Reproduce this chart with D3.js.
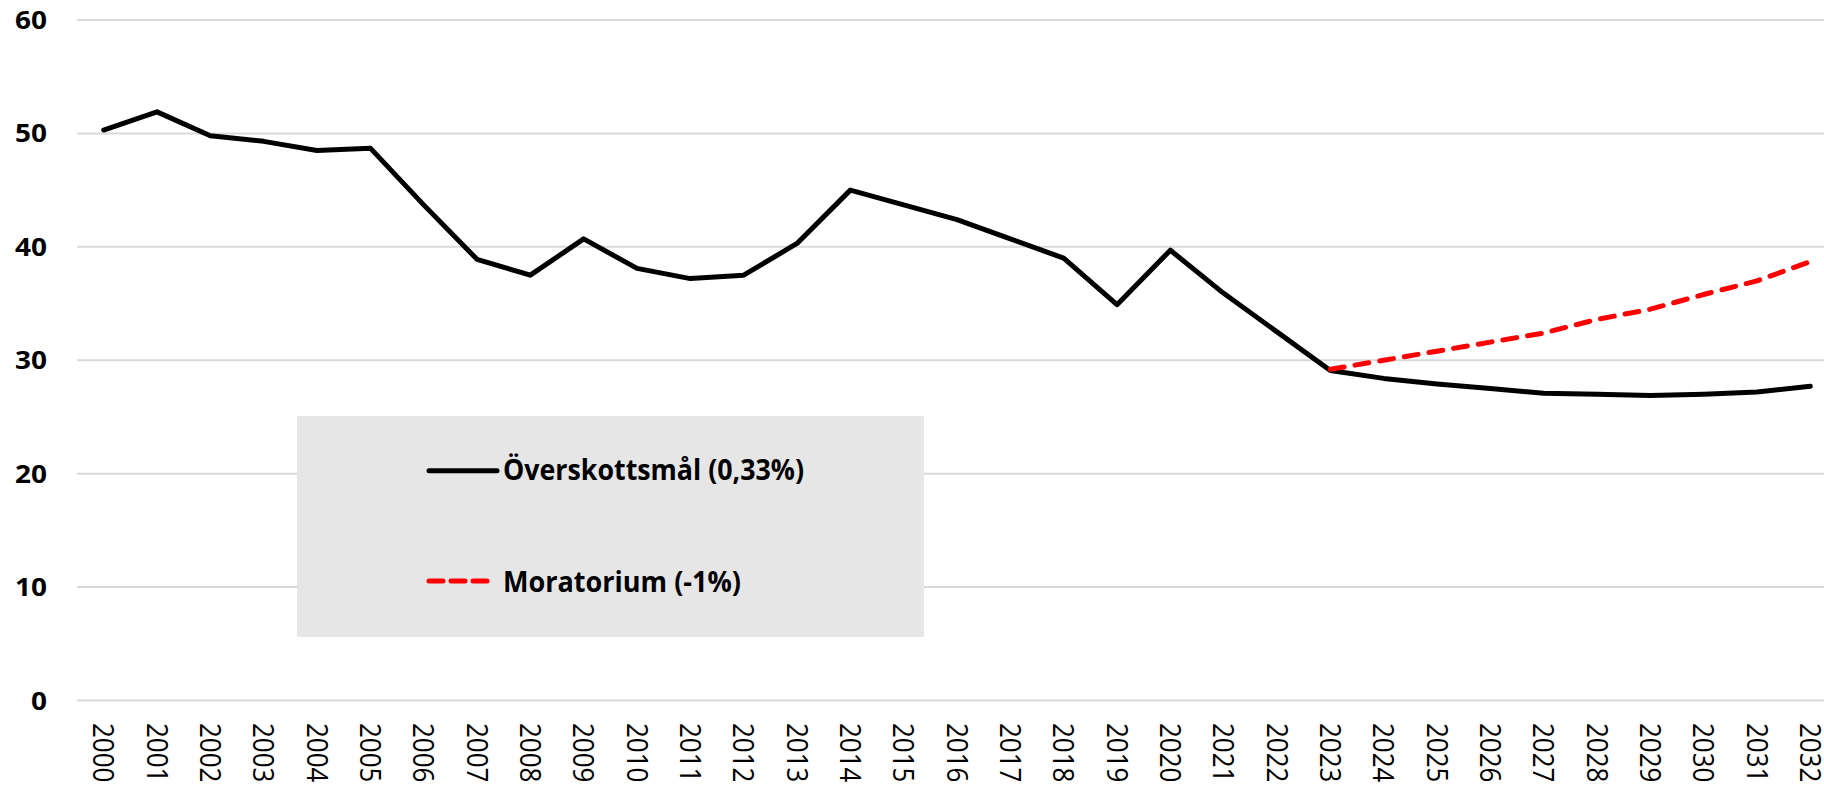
<!DOCTYPE html>
<html><head><meta charset="utf-8">
<script src="https://cdn.jsdelivr.net/npm/d3@7"></script>
<style>body{margin:0;background:#fff;overflow:hidden} svg{display:block}</style>
</head><body><svg id="c" width="1824" height="788"></svg>
<script>
const years = ["2000","2001","2002","2003","2004","2005","2006","2007","2008","2009","2010",
  "2011","2012","2013","2014","2015","2016","2017","2018","2019","2020","2021","2022",
  "2023","2024","2025","2026","2027","2028","2029","2030","2031","2032"];
const surplusTarget = [50.3,51.9,49.8,49.3,48.5,48.7,43.7,38.9,37.5,40.7,38.1,
  37.2,37.5,40.3,45.0,43.7,42.4,40.7,39.0,34.9,39.7,35.9,32.5,
  29.1,28.4,27.9,27.5,27.1,27.0,26.9,27.0,27.2,27.7];
const moratoriumYears = ["2023","2024","2025","2026","2027","2028","2029","2030","2031","2032"];
const moratorium = [29.2,30.0,30.8,31.6,32.4,33.6,34.5,35.8,37.0,38.7];
const yTicks = [0,10,20,30,40,50,60];
const seriesNames = ["Överskottsmål (0,33%)","Moratorium (-1%)"];

const svg = d3.select("#c");
const FONT = "'Open Sans', 'Liberation Sans', sans-serif";
const x = d3.scaleBand().domain(years).range([77, 1837]).paddingInner(0).paddingOuter(0);
const cx = d => x(d) + x.bandwidth()/2;
const y = d3.scaleLinear().domain([0,60]).range([700.5, 20]);

// gridlines
svg.append("g").selectAll("line").data(yTicks).join("line")
  .attr("x1", 77).attr("x2", 1837)
  .attr("y1", d => y(d)).attr("y2", d => y(d))
  .attr("stroke", "#d9d9d9").attr("stroke-width", 2);

// y labels
svg.append("g").selectAll("text").data(yTicks).join("text")
  .attr("transform", d => `translate(47,${y(d) + 9}) scale(1.12,1)`)
  .attr("text-anchor", "end")
  .attr("font-family", FONT).attr("font-weight", "bold").attr("font-size", 25)
  .attr("fill", "#000")
  .text(d => d);

// x labels rotated
svg.append("g").selectAll("text").data(years).join("text")
  .attr("transform", d => `translate(${cx(d) - 10.5},723) rotate(90) scale(1,1.1)`)
  .attr("font-family", FONT).attr("font-size", 26)
  .attr("fill", "#000")
  .text(d => d);

// legend box
const lg = svg.append("g");
lg.append("rect").attr("x", 297).attr("y", 416).attr("width", 627).attr("height", 221)
  .attr("fill", "#e6e6e6");

// lines
const line = d3.line().x(d => cx(d[0])).y(d => y(d[1]));
svg.append("path")
  .datum(years.map((yr,i) => [yr, surplusTarget[i]]))
  .attr("d", line).attr("fill", "none").attr("stroke", "#000")
  .attr("stroke-width", 5).attr("stroke-linejoin", "round").attr("stroke-linecap", "round");
svg.append("path")
  .datum(moratoriumYears.map((yr,i) => [yr, moratorium[i]]))
  .attr("d", line).attr("fill", "none").attr("stroke", "#ff0000")
  .attr("stroke-width", 5).attr("stroke-dasharray", "14,11")
  .attr("stroke-linejoin", "round").attr("stroke-linecap", "round");

// legend entries
const legendItems = [
  {name: seriesNames[0], color: "#000", dash: null, ly: 470.7, ty: 480, x2: 497, tw: 301},
  {name: seriesNames[1], color: "#ff0000", dash: "14,8", ly: 581, ty: 592, x2: 491, tw: 238}
];
legendItems.forEach(it => {
  lg.append("line").attr("x1", 429).attr("x2", it.x2).attr("y1", it.ly).attr("y2", it.ly)
    .attr("stroke", it.color).attr("stroke-width", 5).attr("stroke-linecap", "round")
    .attr("stroke-dasharray", it.dash);
  lg.append("text").attr("x", 503).attr("y", it.ty)
    .attr("font-family", FONT).attr("font-weight", "bold").attr("font-size", 28)
    .attr("fill", "#000")
    .attr("textLength", it.tw).attr("lengthAdjust", "spacingAndGlyphs")
    .text(it.name);
});
</script></body></html>
